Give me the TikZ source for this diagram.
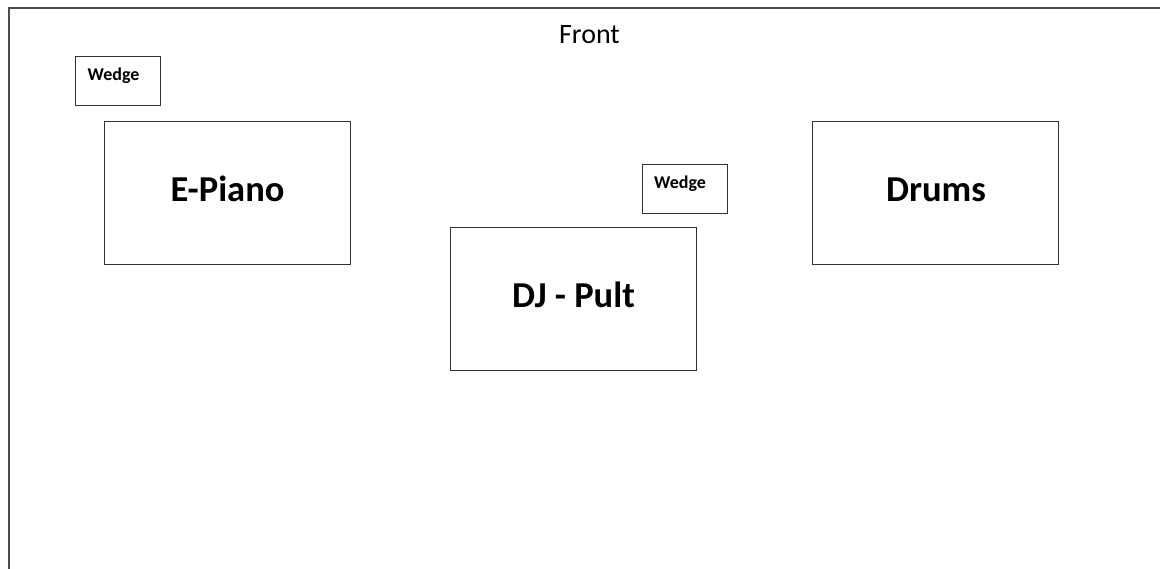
\documentclass[tikz,border=0pt]{standalone}
\usepackage{fontspec}
\setmainfont{Carlito}
\begin{document}
\begin{tikzpicture}[x=1pt,y=-1pt,
  frame/.style={draw=black!70,line width=1.2pt},
  bigbox/.style={draw=black!80,line width=0.9pt,minimum width=246pt,minimum height=143pt,inner sep=0pt},
  wedgebox/.style={draw=black!80,line width=0.9pt,minimum width=85pt,minimum height=49pt,inner sep=0pt},
  bigtext/.style={font=\fontsize{36.5}{39}\selectfont\bfseries,anchor=base,inner sep=0pt},
  wedgetext/.style={font=\fontsize{18}{20}\selectfont\bfseries,anchor=base,inner sep=0pt},
  fronttext/.style={font=\fontsize{28}{30}\selectfont,anchor=base,inner sep=0pt}]
\useasboundingbox (0,0) rectangle (1160,568);
\coordinate (fbl) at (9,570);
\coordinate (ftl) at (9,8);
\coordinate (ftr) at (1162,8);
\draw[frame] (fbl) -- (ftl) -- (ftr);
\node[fronttext] (front) at (589.5,43) {Front};
\node[wedgebox] (w1) at (117.5,80.5) {};
\node[wedgetext] (w1t) at (113.5,80) {Wedge};
\node[wedgebox] (w2) at (684.5,189) {};
\node[wedgetext] (w2t) at (680,188) {Wedge};
\node[bigbox] (ep) at (227,192.5) {};
\node[bigtext] (ept) at (227.5,201.5) {E-Piano};
\node[bigbox] (dr) at (935.5,192.5) {};
\node[bigtext] (drt) at (936,201.5) {Drums};
\node[bigbox] (dj) at (573,298.5) {};
\node[bigtext] (djt) at (573.5,307) {DJ - Pult};
\end{tikzpicture}
\end{document}
